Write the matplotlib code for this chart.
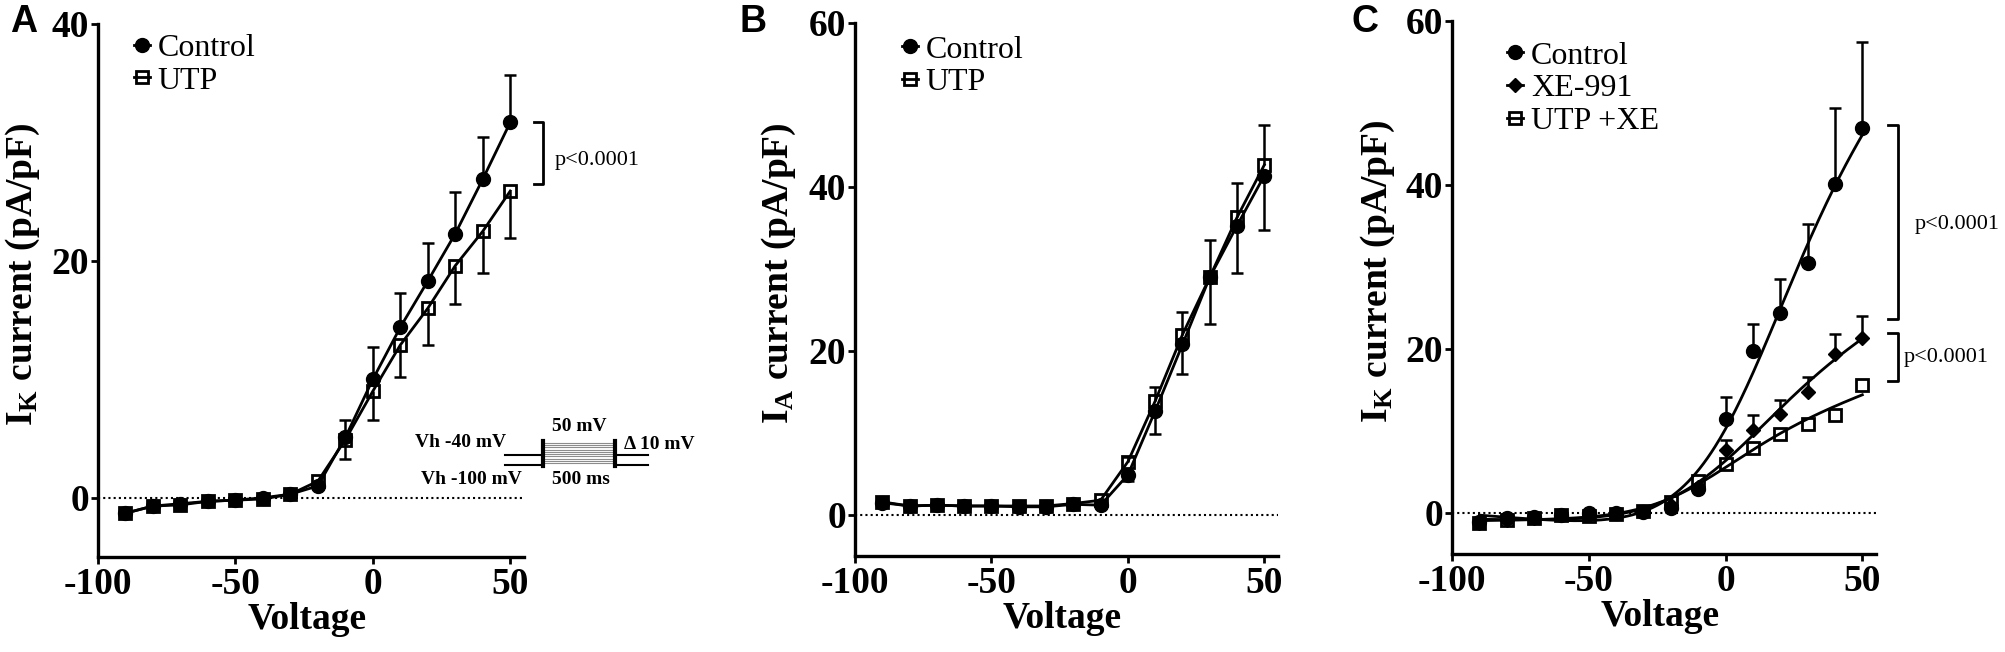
import numpy as np
import matplotlib
matplotlib.use("Agg")
import matplotlib.pyplot as plt
from matplotlib.lines import Line2D

plt.rcParams["font.family"] = ["Liberation Serif", "DejaVu Serif"]
plt.rcParams["font.weight"] = "bold"
plt.rcParams["axes.labelweight"] = "bold"
plt.rcParams["axes.unicode_minus"] = False
plt.rcParams["mathtext.fontset"] = "custom"
plt.rcParams["mathtext.rm"] = "Liberation Serif:bold"
plt.rcParams["mathtext.it"] = "Liberation Serif:bold"
plt.rcParams["mathtext.bf"] = "Liberation Serif:bold"

voltage = [-90, -80, -70, -60, -50, -40, -30, -20, -10, 0, 10, 20, 30, 40, 50]

# panel A: I_K, control vs UTP
a_control = [-1.3, -0.7, -0.5, -0.3, -0.2, 0.0, 0.3, 1.0, 5.1, 10.0, 14.4, 18.3, 22.3, 26.9, 31.7]
a_control_err = [0, 0, 0, 0, 0, 0, 0, 0, 1.5, 2.7, 2.9, 3.2, 3.5, 3.6, 4.0]
a_utp = [-1.3, -0.7, -0.6, -0.3, -0.2, -0.1, 0.3, 1.4, 4.9, 9.0, 12.9, 16.0, 19.6, 22.5, 25.9]
a_utp_err = [0, 0, 0, 0, 0, 0, 0, 0, 1.6, 2.4, 2.7, 3.1, 3.2, 3.5, 4.0]

# panel B: I_A, control vs UTP
b_control = [1.5, 1.1, 1.2, 1.1, 1.1, 1.0, 1.0, 1.3, 1.2, 4.9, 12.7, 20.8, 29.0, 35.3, 41.4]
b_control_err = [0, 0, 0, 0, 0, 0, 0, 0, 0, 0.8, 2.8, 3.6, 5.7, 5.8, 6.6]
b_utp = [1.6, 1.1, 1.2, 1.1, 1.1, 1.1, 1.1, 1.4, 1.8, 6.5, 13.9, 22.0, 29.0, 36.3, 42.7]
b_utp_err = [0, 0, 0, 0, 0, 0, 0, 0, 0, 0.6, 1.7, 2.7, 4.5, 4.2, 4.9]

# panel C: I_K, control / XE-991 / UTP + XE
c_control = [-1.1, -0.6, -0.5, -0.2, 0.0, 0.0, 0.1, 0.6, 2.9, 11.5, 19.8, 24.4, 30.5, 40.1, 46.9]
c_control_err = [0, 0, 0, 0, 0, 0, 0, 0, 0, 2.6, 3.3, 4.1, 4.8, 9.3, 10.5]
c_xe = [-1.2, -0.8, -0.6, -0.3, -0.2, 0.0, 0.1, 1.0, 3.2, 7.7, 10.1, 12.1, 14.8, 19.4, 21.4]
c_xe_err = [0, 0, 0, 0, 0, 0, 0, 0, 0, 1.2, 1.8, 1.7, 1.8, 2.4, 2.6]
c_utpxe = [-1.2, -0.9, -0.6, -0.2, -0.4, -0.1, 0.2, 1.3, 3.9, 6.0, 7.9, 9.6, 10.9, 12.0, 15.6]

W, H = 2005, 652


def px_axes(left, top, right, bottom):
    return fig.add_axes([left / W, 1 - bottom / H, (right - left) / W, (bottom - top) / H])


def err_bars(ax, x, y, e, up=True):
    x, y, e = np.asarray(x, float), np.asarray(y, float), np.asarray(e, float)
    m = e > 0
    end = y + e if up else y - e
    ax.vlines(x[m], y[m], end[m], color="k", lw=1.8, zorder=1)
    ax.plot(x[m], end[m], ls="none", marker="_", ms=9, mew=1.8, color="k", zorder=1)


def style_axes(ax, ymax, ylabel, ypos):
    ax.set_xlim(-100, 55)
    ax.set_ylim(-5, ymax)
    ax.set_xticks([-100, -50, 0, 50])
    ax.set_yticks(list(range(0, ymax + 1, 20)))
    for s in ("top", "right"):
        ax.spines[s].set_visible(False)
    for s in ("left", "bottom"):
        ax.spines[s].set_linewidth(2.4)
    ax.tick_params(axis="both", length=5, width=2, labelsize=27)
    ax.tick_params(axis="x", pad=2)
    ax.tick_params(axis="y", pad=1.5)
    ax.axhline(0, color="k", lw=1.5, ls=(0, (1, 1.5)), zorder=0)
    ax.set_xlabel("Voltage", fontsize=27)
    ax.xaxis.label.set_verticalalignment("center")
    ax.xaxis.set_label_coords(0.49, -0.118)
    ax.set_ylabel(ylabel, fontsize=27)
    ax.yaxis.label.set_verticalalignment("center")
    ax.yaxis.set_label_coords(ypos, 0.53)


def bracket(ax, x, y0, y1, text, tx, ty):
    ax.plot([x - 3.5, x, x, x - 3.5], [y0, y0, y1, y1], color="k", lw=2, clip_on=False)
    ax.text(tx, ty, text, fontsize=16, fontweight="normal", va="center", ha="left")


def fit_iv(v, i, ek=-90.0):
    # Boltzmann-gated conductance plus linear leak, fitted to the points
    v, i = np.asarray(v, float), np.asarray(i, float)
    best = (np.inf, None)
    for vh in np.arange(-40, 40.5, 0.5):
        for k in np.arange(3, 30.5, 0.5):
            act = 1 / (1 + np.exp((vh - v) / k))
            A = np.column_stack([act * (v - ek), np.ones_like(v), v])
            coef = np.linalg.lstsq(A, i, rcond=None)[0]
            sse = ((A @ coef - i) ** 2).sum()
            if sse < best[0]:
                best = (sse, (vh, k, coef))
    vh, k, coef = best[1]
    vv = np.linspace(v.min(), v.max(), 300)
    act = 1 / (1 + np.exp((vh - vv) / k))
    return vv, coef[0] * act * (vv - ek) + coef[1] + coef[2] * vv


leg_font = {"family": "Liberation Serif", "weight": "normal", "size": 23}
leg_kw = dict(loc="upper left", frameon=False, prop=leg_font, handlelength=0.5, handletextpad=0.25,
              labelspacing=0.1, borderpad=0, borderaxespad=0)

fig = plt.figure(figsize=(W / 100, H / 100), dpi=100)
axA = px_axes(98, 24, 524, 557)
axB = px_axes(855, 23, 1278, 556)
axC = px_axes(1452, 21, 1876, 554)

# ---- A
err_bars(axA, voltage, a_utp, a_utp_err, up=False)
err_bars(axA, voltage, a_control, a_control_err, up=True)
axA.plot(voltage, a_utp, color="k", lw=2, marker="s", ms=9, mfc="none", mec="k", mew=2, label="UTP", zorder=2)
axA.plot(voltage, a_control, color="k", lw=2, marker="o", ms=10, mfc="k", mec="k", label="Control", zorder=3)
style_axes(axA, 40, r"$\mathrm{I_K}$ current (pA/pF)", -0.176)
h, l = axA.get_legend_handles_labels()
axA.legend(h[::-1], l[::-1], bbox_to_anchor=(0.084, 0.982), **leg_kw)
bracket(axA, 62, 31.7, 26.5, "p<0.0001", 66, 28.5)

# ---- B
err_bars(axB, voltage, b_control, b_control_err, up=False)
err_bars(axB, voltage, b_utp, b_utp_err, up=True)
axB.plot(voltage, b_utp, color="k", lw=2, marker="s", ms=9, mfc="none", mec="k", mew=2, label="UTP", zorder=2)
axB.plot(voltage, b_control, color="k", lw=2, marker="o", ms=10, mfc="k", mec="k", label="Control", zorder=3)
style_axes(axB, 60, r"$\mathrm{I_A}$ current (pA/pF)", -0.18)
h, l = axB.get_legend_handles_labels()
axB.legend(h[::-1], l[::-1], bbox_to_anchor=(0.11, 0.977), **leg_kw)

# ---- C
err_bars(axC, voltage, c_control, c_control_err, up=True)
err_bars(axC, voltage, c_xe, c_xe_err, up=True)
for series in (c_control, c_xe, c_utpxe):
    vv, ii = fit_iv(voltage, series)
    axC.plot(vv, ii, color="k", lw=2, zorder=2)
axC.plot(voltage, c_utpxe, ls="none", marker="s", ms=9, mfc="none", mec="k", mew=2, zorder=3)
axC.plot(voltage, c_xe, ls="none", marker="D", ms=7, mfc="k", mec="k", zorder=4)
axC.plot(voltage, c_control, ls="none", marker="o", ms=10, mfc="k", mec="k", zorder=5)
style_axes(axC, 60, r"$\mathrm{I_K}$ current (pA/pF)", -0.175)
handles = [
    Line2D([], [], color="k", lw=2, marker="o", ms=10, mfc="k"),
    Line2D([], [], color="k", lw=2, marker="D", ms=7, mfc="k"),
    Line2D([], [], color="k", lw=2, marker="s", ms=9, mfc="none", mew=2),
]
axC.legend(handles, ["Control", "XE-991", "UTP +XE"], bbox_to_anchor=(0.13, 0.962), **leg_kw)
bracket(axC, 63, 47.3, 23.6, "p<0.0001", 69, 35.2)
bracket(axC, 63, 22.0, 16.1, "p<0.0001", 65, 19.0)

# ---- protocol inset in A
axI = px_axes(400, 415, 660, 495)
axI.set_xlim(400, 660)
axI.set_ylim(495, 415)
axI.axis("off")
for yy in (455, 465):
    axI.plot([505, 543], [yy, yy], color="k", lw=1.5)
    axI.plot([615, 648], [yy, yy], color="k", lw=1.5)
for yy in np.linspace(443, 463, 10):
    axI.plot([543, 615], [yy, yy], color="0.55", lw=0.8)
axI.plot([543, 543], [441, 466], color="k", lw=3)
axI.plot([615, 615], [441, 466], color="k", lw=3)
axI.text(506, 443, "Vh -40 mV", fontsize=14, ha="right", va="center")
axI.text(522, 480, "Vh -100 mV", fontsize=14, ha="right", va="center")
axI.text(579, 427, "50 mV", fontsize=14, ha="center", va="center")
axI.text(581, 480, "500 ms", fontsize=14, ha="center", va="center")
axI.text(624, 445, "\u0394 10 mV", fontsize=14, ha="left", va="center")

# panel letters
for lx, letter in ((24, "A"), (753, "B"), (1365, "C")):
    fig.text(lx / W, 1 - 22 / H, letter, fontsize=27, fontweight="bold", family="Liberation Sans",
             ha="center", va="center")

fig.savefig("out.png", dpi=100)
